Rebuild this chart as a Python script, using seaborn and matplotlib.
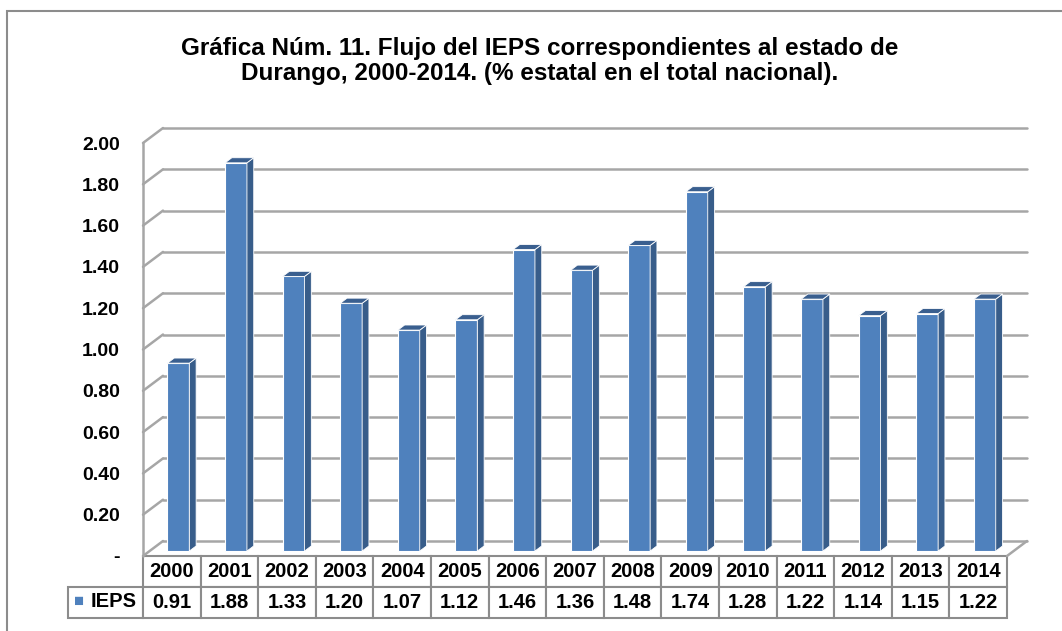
import numpy as np
import matplotlib
matplotlib.use("Agg")
import matplotlib.pyplot as plt
import matplotlib.transforms as mtransforms
from matplotlib.patches import Polygon, Rectangle
import seaborn as sns

# data
years = ["2000", "2001", "2002", "2003", "2004", "2005", "2006", "2007",
         "2008", "2009", "2010", "2011", "2012", "2013", "2014"]
ieps = [0.91, 1.88, 1.33, 1.20, 1.07, 1.12, 1.46, 1.36,
        1.48, 1.74, 1.28, 1.22, 1.14, 1.15, 1.22]
series_name = "IEPS"
yticks = [0.0, 0.2, 0.4, 0.6, 0.8, 1.0, 1.2, 1.4, 1.6, 1.8, 2.0]
ytick_labels = ["-", "0.20", "0.40", "0.60", "0.80", "1.00", "1.20",
                "1.40", "1.60", "1.80", "2.00"]
title = ("Gráfica Núm. 11. Flujo del IEPS correspondientes al estado de\n"
         "Durango, 2000-2014. (% estatal en el total nacional).")

sns.set_style("white")
plt.rcParams["font.family"] = ["Liberation Sans", "DejaVu Sans"]
plt.rcParams["font.weight"] = "bold"
plt.rcParams["text.color"] = "black"
plt.rcParams["ytick.color"] = "black"

FRONT = "#4F81BD"
SIDE = "#385D8A"
TOP = "#3A5F8F"
GRID = "#A6A6A6"

W, H = 1062, 631
fig = plt.figure(figsize=(W / 100, H / 100), dpi=100)
ax = fig.add_axes([143 / W, (H - 556) / H, 864 / W, 413 / H])

# depth of the fake 3d box (data units)
DX, DY = 0.347, 0.0726
f0, f1 = 0.33, 0.67

sns.barplot(x=years, y=ieps, color=FRONT, saturation=1, width=0.38,
            edgecolor="white", linewidth=0.8, ax=ax, zorder=3)
ax.set_xlim(-0.5, len(years) - 0.5)
ax.set_ylim(0, 2.0)

shift = mtransforms.Affine2D().translate(f0 * DX, f0 * DY) + ax.transData
for p in ax.patches:
    p.set_transform(shift)
    p.set_clip_on(False)
    x0 = p.get_x() + f0 * DX
    x1 = x0 + p.get_width()
    yb = f0 * DY
    yt = p.get_height() + f0 * DY
    d = f1 - f0
    side = Polygon([(x1, yb), (x1 + d * DX, yb + d * DY),
                    (x1 + d * DX, yt + d * DY), (x1, yt)],
                   closed=True, facecolor=SIDE, edgecolor="white", lw=0.6,
                   zorder=3, clip_on=False)
    top = Polygon([(x0, yt), (x1, yt), (x1 + d * DX, yt + d * DY),
                   (x0 + d * DX, yt + d * DY)],
                  closed=True, facecolor=TOP, edgecolor="white", lw=0.6,
                  zorder=3, clip_on=False)
    ax.add_patch(side)
    ax.add_patch(top)

# walls, floor and gridlines
xl, xr = -0.5, len(years) - 0.5
for v in yticks:
    ax.plot([xl, xl + DX], [v, v + DY], color=GRID, lw=1.8, zorder=1, clip_on=False)
    ax.plot([xl + DX, xr + DX], [v + DY, v + DY], color=GRID, lw=1.8, zorder=1,
            clip_on=False)
ax.plot([xl, xl], [0, yticks[-1]], color=GRID, lw=1.8, zorder=1, clip_on=False)
ax.plot([xr, xr + DX], [0, DY], color=GRID, lw=1.8, zorder=1, clip_on=False)

sns.despine(ax=ax, left=True, bottom=True)
ax.set_xticks([])
ax.set_xlabel("")
ax.set_yticks(yticks)
ax.set_yticklabels(ytick_labels, fontsize=14, fontweight="bold")
ax.tick_params(axis="y", length=0, pad=16.5)

# data table under the plot
cell_text = [[""] + years, [""] + [f"{v:.2f}" for v in ieps]]
lab_w = 75 / 864
col_w = [lab_w] + [1 / len(years)] * len(years)
tbl = ax.table(cellText=cell_text, colWidths=col_w, cellLoc="center",
               bbox=[-lab_w, -62 / 413, 1 + lab_w, 62 / 413])
tbl.auto_set_font_size(False)
tbl.set_fontsize(14.5)
for (r, c), cell in tbl.get_celld().items():
    cell.set_edgecolor("#8C8C8C")
    cell.set_linewidth(1.5)
    cell.get_text().set_fontweight("bold")
tbl[0, 0].visible_edges = ""
ax.text(-0.0735, -0.111, "■", color=FRONT, fontsize=12, ha="center",
        va="center", transform=ax.transAxes)
ax.text(-0.061, -0.111, series_name, fontsize=14.5, fontweight="bold",
        ha="left", va="center", transform=ax.transAxes)

fig.text(540 / W, 1 - 61 / H, title, ha="center", va="center",
         fontsize=17.5, fontweight="bold", linespacing=1.1)

fig.patches.append(Rectangle((7 / W, -0.1), 1.2, 1 - 11 / H + 0.1,
                             transform=fig.transFigure, fill=False,
                             edgecolor="#8C8C8C", lw=1.5))

fig.savefig("out.png", dpi=100)
